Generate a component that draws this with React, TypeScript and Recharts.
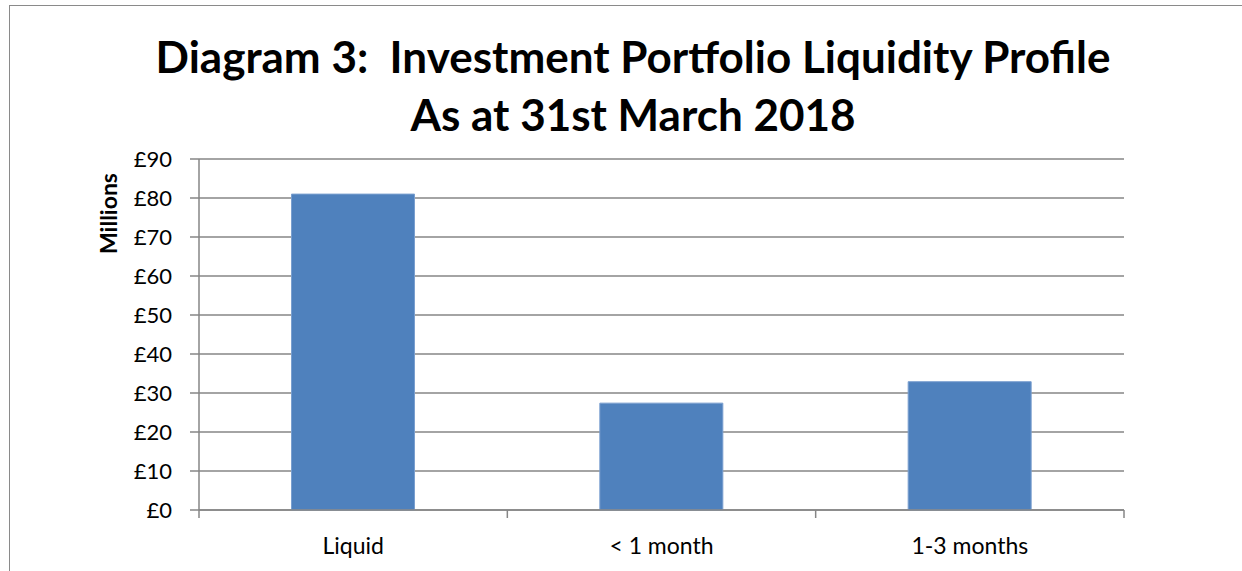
import { Bar, BarChart, CartesianGrid, XAxis, YAxis } from "recharts"

const categories = ["Liquid", "< 1 month", "1-3 months"]
const amounts = [81.0, 27.4, 32.9]
const yTicks = [0, 10, 20, 30, 40, 50, 60, 70, 80, 90]

const chartData = categories.map((name, i) => ({ name, amount: amounts[i] }))

const FONT = "Lato, 'Open Sans', sans-serif"
const GRID = "#868686"

// category labels plus the edge tick marks Excel draws between categories
function CategoryTick(props: any) {
    const { x, y, payload, index } = props
    const half = payload.offset || 0
    const axisY = y - 8
    return (
        <g>
            <line x1={x - half} x2={x - half} y1={axisY} y2={axisY + 8} stroke={GRID} strokeWidth={1.5} />
            {index === categories.length - 1 && (
                <line x1={x + half} x2={x + half} y1={axisY} y2={axisY + 8} stroke={GRID} strokeWidth={1.5} />
            )}
            <text x={x} y={axisY + 44} textAnchor="middle" fontSize={23} fontFamily={FONT} fill="#000">
                {payload.value}
            </text>
        </g>
    )
}

export default function App() {
    return (
        <div style={{ position: "absolute", left: 0, top: 0, width: 1242, height: 571, overflow: "hidden", background: "#fff" }}>
            <div style={{ position: "absolute", left: 9, top: 5, width: 1240, height: 600, border: "1.5px solid #8a8a8a", boxSizing: "border-box" }} />
            <div style={{ position: "absolute", left: 0, top: 27, width: 1266, textAlign: "center", fontFamily: FONT, fontWeight: 700, fontSize: 44, lineHeight: "58px", color: "#000" }}>
                <div>Diagram 3:&nbsp; Investment Portfolio Liquidity Profile</div>
                <div>As at 31st March 2018</div>
            </div>
            <div style={{ position: "absolute", left: 0, top: 0 }}>
                <BarChart width={1242} height={571} data={chartData} margin={{ top: 159, right: 118, left: 119, bottom: 21 }} barCategoryGap="30%">
                    <CartesianGrid vertical={false} stroke={GRID} strokeWidth={1.5} />
                    <XAxis
                        dataKey="name"
                        tickLine={false}
                        tickSize={8}
                        tickMargin={0}
                        axisLine={{ stroke: GRID, strokeWidth: 1.5 }}
                        height={40}
                        interval={0}
                        tick={<CategoryTick />}
                    />
                    <YAxis
                        width={80}
                        domain={[0, 90]}
                        ticks={yTicks}
                        interval={0}
                        tickSize={9}
                        tickMargin={18}
                        tickLine={{ stroke: GRID, strokeWidth: 1.5 }}
                        axisLine={{ stroke: GRID, strokeWidth: 1.5 }}
                        tick={{ fontSize: 22, fontFamily: FONT, fill: "#000" }}
                        tickFormatter={(v) => `£${v}`}
                        label={{ value: "Millions", angle: -90, position: "insideLeft", offset: -10, dy: -121, style: { fontSize: 23, fontWeight: 700, fontFamily: FONT, fill: "#000", textAnchor: "middle" } }}
                    />
                    <Bar dataKey="amount" fill="#4F81BD" stroke="#7A9FCF" strokeWidth={1} isAnimationActive={false} />
                </BarChart>
            </div>
        </div>
    )
}
